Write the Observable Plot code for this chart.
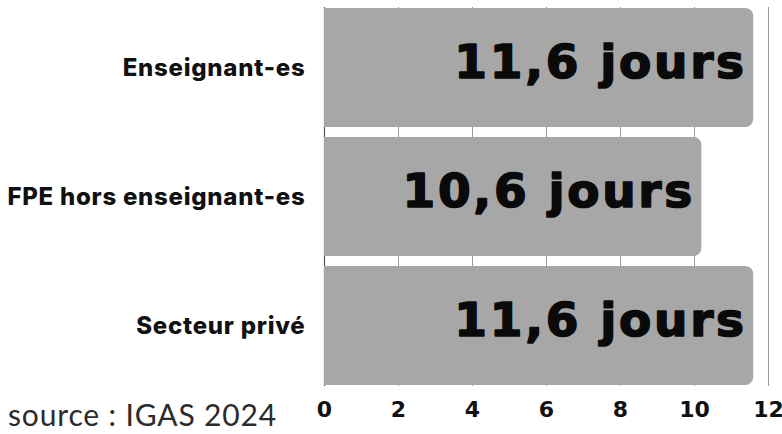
<!DOCTYPE html>
<html>
<head>
<meta charset="utf-8">
<script src="https://cdn.jsdelivr.net/npm/d3@7"></script>
<script src="https://cdn.jsdelivr.net/npm/@observablehq/plot@0.6"></script>
<style>
  html, body { margin: 0; padding: 0; background: #fff; }
  #wrap { position: relative; width: 782px; height: 434px; overflow: hidden; }
  #source { position: absolute; left: 8px; top: 396px; font-family: Lato, "Open Sans", sans-serif; font-size: 30px; letter-spacing: 0.85px; color: #2b2b2b; white-space: nowrap; }
</style>
</head>
<body>
<div id="wrap"><div id="source"></div></div>
<script>
const categories = ["Enseignant-es", "FPE hors enseignant-es", "Secteur privé"];
const values = [11.6, 10.2, 11.6];
const valueLabels = ["11,6 jours", "10,6 jours", "11,6 jours"];
const xTicks = [0, 2, 4, 6, 8, 10, 12];
const sourceText = "source : IGAS 2024";

const data = categories.map((c, i) => ({cat: c, value: values[i], label: valueLabels[i]}));

const chart = Plot.plot({
  width: 782,
  height: 434,
  marginLeft: 324,
  marginRight: 14,
  marginTop: 3,
  marginBottom: 44,
  style: {fontFamily: "Inter, sans-serif", background: "#fff", color: "#111"},
  x: {domain: [0, 12], ticks: xTicks},
  y: {domain: categories, paddingInner: 0.08, paddingOuter: 0.04},
  marks: [
    Plot.gridX(xTicks, {stroke: "#9a9a9a", strokeOpacity: 1, strokeWidth: 1, insetTop: 4, insetBottom: 4}),
    Plot.ruleX([0], {stroke: "#555", strokeWidth: 1.2, insetTop: 4, insetBottom: 4}),
    Plot.barX(data, {y: "cat", x1: 0, x2: "value", fill: "#a6a7a6", rx: 8}),
    Plot.barX(data, {y: "cat", x1: 0, x2: d => d.value / 2, fill: "#a6a7a6"}),
    Plot.text(data, {
      y: "cat", x: "value", text: "label", textAnchor: "end", dx: -7, dy: -5,
      fontFamily: "DejaVu Sans", fontWeight: "bold", fontSize: 47, fill: "#0a0a0a",
      stroke: "#0a0a0a", strokeWidth: 1.6
    }),
    Plot.axisX(xTicks, {
      tickSize: 0, tickPadding: 11, label: null,
      fontFamily: "DejaVu Sans", fontWeight: "bold", fontSize: 22, fill: "#111",
      stroke: "#111", strokeWidth: 0.7
    }),
    Plot.axisY({
      tickSize: 0, tickPadding: 19, label: null,
      fontFamily: "Inter", fontWeight: 800, fontSize: 24, fill: "#111"
    })
  ]
});
d3.select(chart).selectAll('g[aria-label="text"] text').style("letter-spacing", "2.7px");
d3.select(chart).selectAll('g[aria-label="y-axis tick label"] text').style("letter-spacing", "0.75px");
document.getElementById("wrap").prepend(chart);
document.getElementById("source").textContent = sourceText;
</script>
</body>
</html>
